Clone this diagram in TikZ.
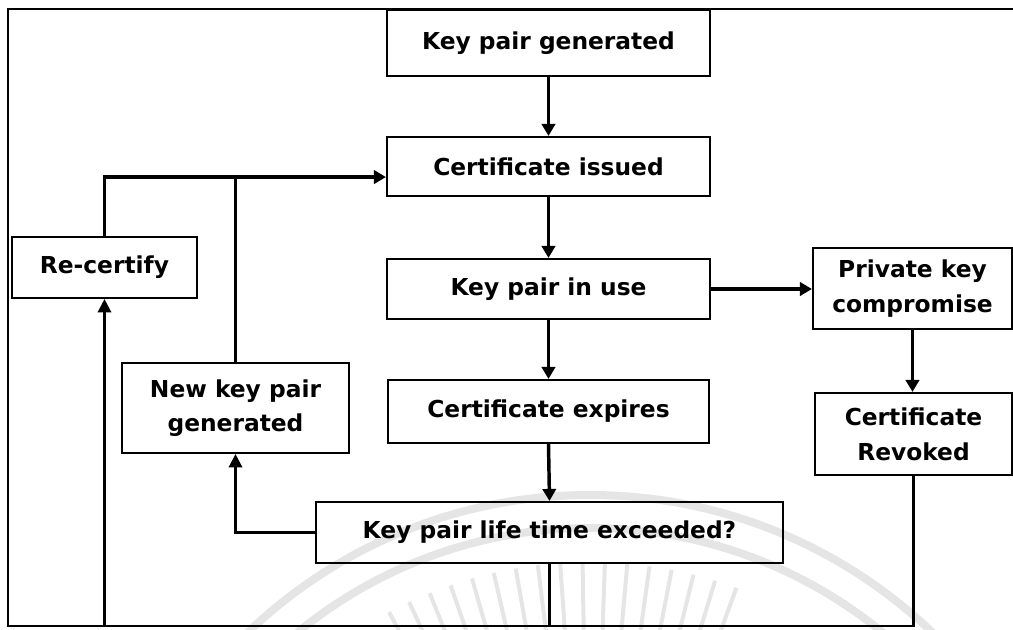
\documentclass[tikz,border=0pt]{standalone}
\usepackage{fontspec}
\setmainfont{DejaVu Sans}
\usetikzlibrary{arrows.meta,calc}
\begin{document}
\begin{tikzpicture}[x=0.75pt,y=-0.75pt,
  box/.style={draw,line width=1.6pt,inner sep=0pt,align=center,
    font=\fontsize{17.5}{26}\selectfont\bfseries},
  flow/.style={line width=2.6pt,-{Triangle[width=10pt,length=9pt]}},
  link/.style={line width=1.8pt},
  linkarr/.style={link,-{Triangle[width=10pt,length=10pt]}},
  seal/.style={draw=gray!20,line width=6pt},
  ray/.style={draw=gray!20,line width=3pt}
]
\useasboundingbox (0,0) rectangle (1013,629);

% faint seal in the background
\begin{scope}
  \clip (0,0) rectangle (1013,629);
  \coordinate (sc) at (590,990);
  \draw[seal] (sc) circle[radius=495];
  \draw[seal] (sc) circle[radius=462];
  \foreach \a in {-118,-115,...,-70}
    \draw[ray] ($(sc)+(\a:340)$) -- ($(sc)+(\a:428)$);
\end{scope}

% states of the key life cycle
\node[box,minimum width=242.25pt,minimum height=49.5pt]  (kpg) at (548.5,43)    {Key pair generated};
\node[box,minimum width=242.25pt,minimum height=44.25pt] (cis) at (548.5,166.5) {Certificate issued};
\node[box,minimum width=242.25pt,minimum height=45pt]    (kiu) at (548.5,289)   {Key pair in use};
\node[box,minimum width=149.25pt,minimum height=60.75pt] (pkc) at (912.5,288.5) {Private key\\compromise};
\node[box,minimum width=240.75pt,minimum height=47.25pt] (cex) at (548.5,411.5) {Certificate expires};
\node[box,minimum width=147.75pt,minimum height=61.5pt]  (crv) at (913.5,434)   {Certificate\\Revoked};
\node[box,minimum width=350.25pt,minimum height=45.75pt] (klt) at (549.5,532.5) {Key pair life time exceeded?};
\node[box,minimum width=170.25pt,minimum height=67.5pt]  (nkp) at (235.5,408)   {New key pair\\generated};
\node[box,minimum width=138.75pt,minimum height=45.75pt] (rec) at (104.5,267.5) {Re-certify};

% helper points
\coordinate (cin) at ([yshift=-7.9pt]cis.west);
\coordinate (base) at (0,626);

% main flow
\draw[flow] (kpg.south) -- (cis.north);
\draw[flow] (cis.south) -- (kiu.north);
\draw[flow] (kiu.east) -- (pkc.west |- kiu.east);
\draw[flow] (kiu.south) -- (cex.north);
\draw[flow] (cex.south) -- (klt.north);
\draw[flow] (pkc.south) -- (pkc.south |- crv.north);

% renewal loops
\draw[linkarr] (klt.west) -| (nkp.south);
\draw[link] (nkp.north) -- (nkp.north |- cin);
\draw[link,line width=2.6pt,-{Triangle[width=10pt,length=9pt]}] (rec.north) |- (cin);
\draw[linkarr] (crv.south) |- (rec.south |- base) -- (rec.south);
\draw[link] (klt.south) -- (klt.south |- base);

% outer frame
\draw[link,line width=2.2pt] (rec.south |- base) -- (8,626) -- (8,9) -- (1013,9);
\end{tikzpicture}
\end{document}
